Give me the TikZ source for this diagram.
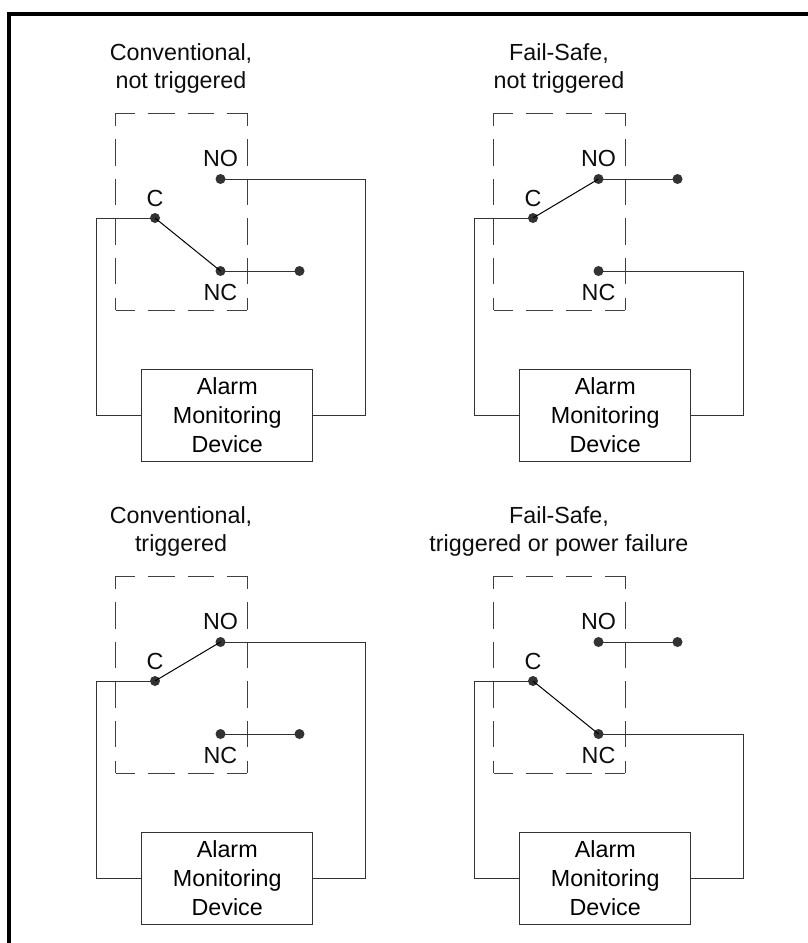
\documentclass[tikz,border=0pt]{standalone}
\usepackage{fontspec}
\setmainfont{Liberation Sans}
\tikzset{
 x=1pt,y=-1pt,
 wire/.style={line width=1pt,black!80},
 lever/.style={line width=1pt,black},
 term/.style={circle,fill=black!80,draw=none,inner sep=0pt,minimum size=10pt},
 lab/.style={inner sep=0pt,font=\fontsize{23.3}{28}\selectfont,text=black!95},
 ttl/.style={lab,align=center},
 devbox/.style={draw=black!80,line width=1pt,minimum width=171pt,minimum height=92pt,inner sep=0pt,align=center,font=\fontsize{23.3}{29}\selectfont},
 dashh/.style={draw=black!75,line width=1pt,dash pattern=on 26.4pt off 13.2pt,dash phase=6.9pt},
 dashv/.style={draw=black!75,line width=1pt,dash pattern=on 26.4pt off 13.2pt,dash phase=13.4pt},
 outerframe/.style={line width=4pt,black}
}
% #1 dx, #2 dy, #3 title, #4 panel letter
\newcommand{\panel}[4]{%
 \begin{scope}[shift={(#1,#2)}]
  \draw[dashh] (115.5,113) -- (247,113);
  \draw[dashh] (115.5,310) -- (247,310);
  \draw[dashv] (115.5,113) -- (115.5,310);
  \draw[dashv] (247,113) -- (247,310);
  \node[ttl] (title#4) at (181,68) {#3};
  \node[devbox] (dev#4) at (227.25,415.5) {Alarm\\Monitoring\\Device};
  \node[term] (no#4) at (220.5,179) {};
  \node[term] (c#4) at (155,218) {};
  \node[term] (nc#4) at (220.5,271) {};
  \node[lab] (nolab#4) at (220.5,158) {NO};
  \node[lab] (clab#4) at (155,198) {C};
  \node[lab] (nclab#4) at (220.5,292) {NC};
  \coordinate (ll#4) at (96,415);
  \coordinate (lt#4) at (96,218);
  \coordinate (rb#4) at (365,415);
 \end{scope}}
\begin{document}
\begin{tikzpicture}
\useasboundingbox (0,0) rectangle (808,943);
\fill[white] (0,0) rectangle (808,943);
\draw[outerframe] (9,943) -- (9,14) -- (808,14);
\panel{0}{0}{Conventional,\\not triggered}{a}
\panel{378}{0}{Fail-Safe,\\not triggered}{b}
\panel{0}{463}{Conventional,\\triggered}{d}
\panel{378}{463}{Fail-Safe,\\triggered or power failure}{e}
% panel a
\node[term] (enda) at (299.5,271) {};
\draw[wire] (deva.west |- lla) -- (lla) -- (lta) -- (ca.center);
\draw[wire] (noa.center) -| (rba) -- (deva.east |- rba);
\draw[lever] (ca.center) -- (nca.center);
\draw[wire] (nca.center) -- (enda.center);
% panel b
\node[term] (endb) at (677.5,179) {};
\draw[wire] (devb.west |- llb) -- (llb) -- (ltb) -- (cb.center);
\draw[wire] (ncb.center) -| (rbb) -- (devb.east |- rbb);
\draw[lever] (cb.center) -- (nob.center);
\draw[wire] (nob.center) -- (endb.center);
% panel d
\node[term] (endd) at (299.5,734) {};
\draw[wire] (devd.west |- lld) -- (lld) -- (ltd) -- (cd.center);
\draw[wire] (nod.center) -| (rbd) -- (devd.east |- rbd);
\draw[lever] (cd.center) -- (nod.center);
\draw[wire] (ncd.center) -- (endd.center);
% panel e
\node[term] (ende) at (677.5,642) {};
\draw[wire] (deve.west |- lle) -- (lle) -- (lte) -- (ce.center);
\draw[wire] (nce.center) -| (rbe) -- (deve.east |- rbe);
\draw[lever] (ce.center) -- (nce.center);
\draw[wire] (noe.center) -- (ende.center);
\end{tikzpicture}
\end{document}
